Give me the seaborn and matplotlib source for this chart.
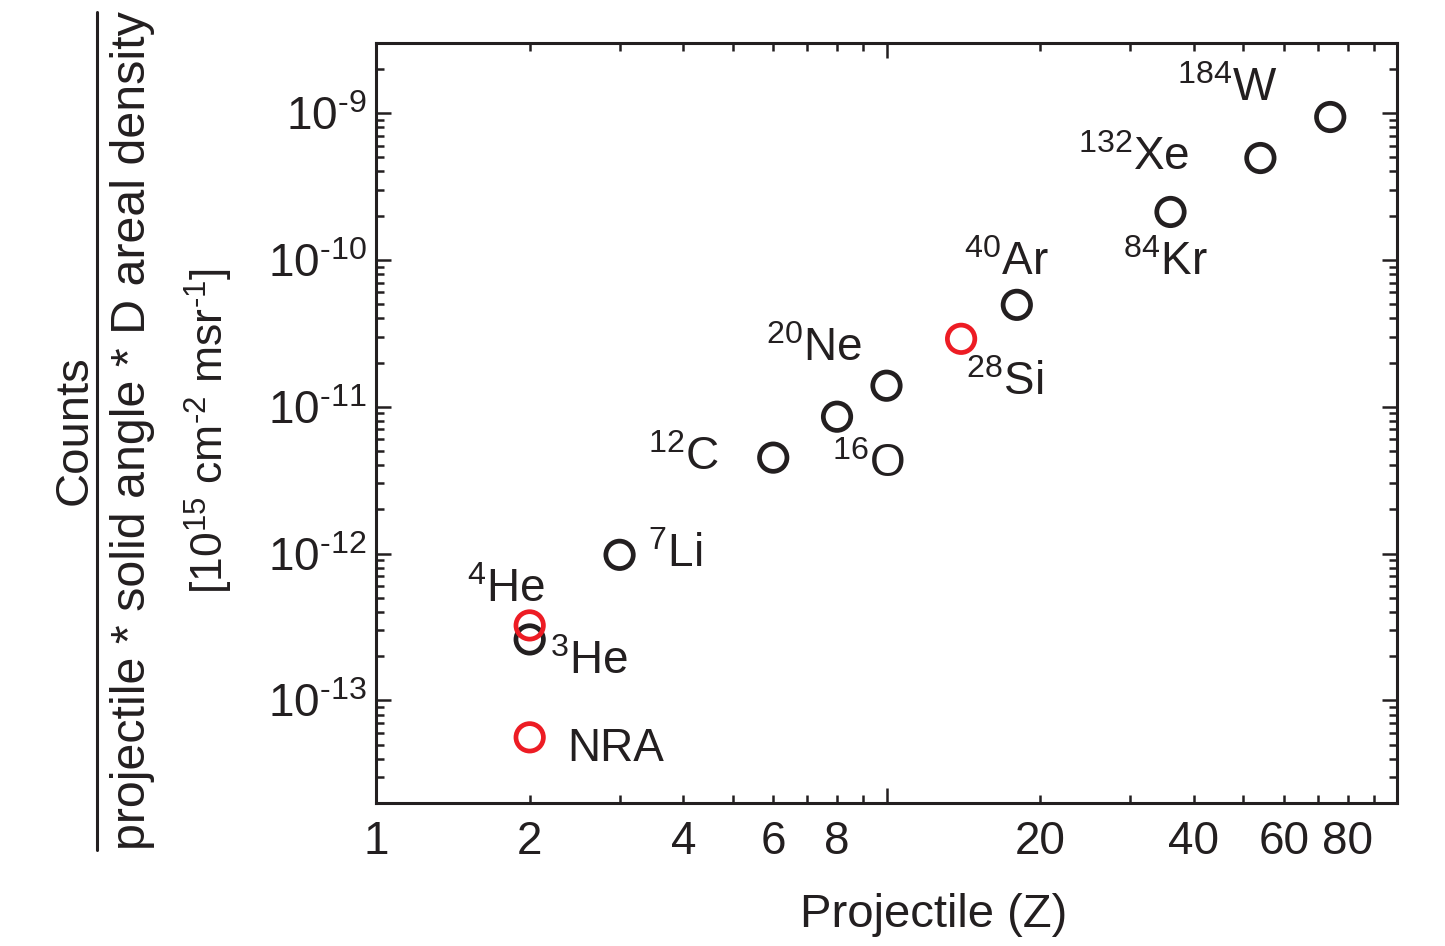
import matplotlib
matplotlib.use("Agg")
import matplotlib.pyplot as plt
from matplotlib.lines import Line2D
from matplotlib.ticker import FixedLocator, FixedFormatter, NullFormatter
import numpy as np
import pandas as pd
import seaborn as sns

# Projectile atomic number, normalised yield, isotope label, data group
projectile_z = [2, 2, 2, 3, 6, 8, 10, 14, 18, 36, 54, 74]
norm_counts = [5.6e-14, 2.6e-13, 3.24e-13, 9.8e-13, 4.5e-12, 8.55e-12,
               1.39e-11, 2.9e-11, 4.94e-11, 2.12e-10, 4.94e-10, 9.4e-10]
isotope = ["NRA", "3He", "4He", "7Li", "12C", "16O",
           "20Ne", "28Si", "40Ar", "84Kr", "132Xe", "184W"]
group = ["red", "black", "red", "black", "black", "black",
         "black", "red", "black", "black", "black", "black"]

x_tick_labels = ["1", "2", "4", "6", "8", "20", "40", "60", "80"]
x_tick_values = [1, 2, 4, 6, 8, 20, 40, 60, 80]

BLACK = "#231f20"
RED = "#ed1c24"
HYPHEN = "\u2010"

sns.set_theme(style="ticks")
plt.rcParams["font.family"] = ["Liberation Sans", "DejaVu Sans"]
plt.rcParams["mathtext.fontset"] = "custom"
plt.rcParams["mathtext.rm"] = "Liberation Sans"
plt.rcParams["mathtext.it"] = "Liberation Sans:italic"
plt.rcParams["mathtext.bf"] = "Liberation Sans:bold"
plt.rcParams["text.color"] = BLACK

df = pd.DataFrame({"Z": projectile_z, "value": norm_counts,
                   "label": isotope, "group": group})

fig = plt.figure(figsize=(14.45, 9.46), dpi=100)
ax = fig.add_axes([376 / 1445, 1 - 803 / 946, (1397 - 376) / 1445, (803 - 43) / 946])

sns.scatterplot(data=df, x="Z", y="value", hue="group",
                palette={"black": BLACK, "red": RED}, s=390,
                legend=False, ax=ax, zorder=3)
# hollow circles: move the fill colour to the edge
for coll in ax.collections:
    fc = coll.get_facecolors()
    coll.set_edgecolors(fc)
    coll.set_facecolor("none")
    coll.set_linewidth(3.4)

ax.set_xscale("log")
ax.set_yscale("log")
ax.set_xlim(1, 100)
ax.set_ylim(2e-14, 3e-9)

# x ticks: long ticks at decades, short ones in between
ax.xaxis.set_major_locator(FixedLocator([1, 10, 100]))
ax.xaxis.set_major_formatter(FixedFormatter(["1", "", ""]))
minor_x = [2, 3, 4, 5, 6, 7, 8, 9, 20, 30, 40, 50, 60, 70, 80, 90]
ax.xaxis.set_minor_locator(FixedLocator(minor_x))
ax.xaxis.set_minor_formatter(FixedFormatter(
    [x_tick_labels[x_tick_values.index(v)] if v in x_tick_values else "" for v in minor_x]))

y_major = [1e-13, 1e-12, 1e-11, 1e-10, 1e-9]
ax.yaxis.set_major_locator(FixedLocator(y_major))
ax.yaxis.set_major_formatter(FixedFormatter(
    [r"$\mathregular{10^{%s%d}}$" % (HYPHEN, -int(round(np.log10(v)))) for v in y_major]))
minor_y = [m * 10.0 ** e for e in range(-14, -8) for m in range(2, 10)]
ax.yaxis.set_minor_locator(FixedLocator(minor_y))
ax.yaxis.set_minor_formatter(NullFormatter())

for sp in ax.spines.values():
    sp.set_linewidth(2.2)
    sp.set_color(BLACK)

ax.tick_params(which="both", direction="in", top=True, right=True,
               colors=BLACK, width=1.8)
ax.tick_params(axis="x", which="both", labelsize=33, pad=12.5)
ax.tick_params(axis="y", which="both", labelsize=33, pad=7)
ax.tick_params(which="major", length=11)
ax.tick_params(which="minor", length=5.5)

ax.set_xlabel("")
ax.set_ylabel("")
fig.text(934 / 1445, 1 - 915 / 946, "Projectile (Z)", fontsize=34,
         ha="center", va="center", color=BLACK)

# isotope labels placed next to their markers (offsets in pixels)
label_style = {
    "NRA": ((38, -24), "left"),
    "3He": ((20, -35), "left"),
    "4He": ((-63, 23), "left"),
    "7Li": ((28, -12), "left"),
    "12C": ((-54, -12), "right"),
    "16O": ((-5, -60), "left"),
    "20Ne": ((-24, 25), "right"),
    "28Si": ((5, -56), "left"),
    "40Ar": ((-53, 30), "left"),
    "84Kr": ((-47, -63), "left"),
    "132Xe": ((-71, -12), "right"),
    "184W": ((-53, 16), "right"),
}
for z, v, lab in zip(projectile_z, norm_counts, isotope):
    off, ha = label_style[lab]
    mass = "".join(ch for ch in lab if ch.isdigit())
    elem = "".join(ch for ch in lab if not ch.isdigit())
    txt = r"$\mathregular{^{%s}%s}$" % (mass, elem) if mass else lab
    ax.annotate(txt, (z, v), xytext=off, textcoords="offset pixels",
                ha=ha, va="baseline", fontsize=33, color=BLACK)

# y-axis label written as a fraction
fig.text(87 / 1445, 1 - 430 / 946, "Counts", rotation=90, rotation_mode="anchor",
         ha="center", va="baseline", fontsize=34, color=BLACK)
fig.add_artist(Line2D([97 / 1445, 97 / 1445], [1 - 12 / 946, 1 - 850 / 946],
                      color=BLACK, linewidth=2.2))
fig.text(145 / 1445, 1 - 431 / 946, "projectile * solid angle * D areal density",
         rotation=90, rotation_mode="anchor", ha="center", va="baseline",
         fontsize=34.8, color=BLACK)
fig.text(224 / 1445, 1 - 431 / 946,
         r"[10$^{\mathregular{15}}$ cm$^{\mathregular{%s2}}$ msr$^{\mathregular{%s1}}$]"
         % (HYPHEN, HYPHEN),
         rotation=90, rotation_mode="anchor", ha="center", va="baseline",
         fontsize=32, color=BLACK)

fig.savefig("out.png", dpi=100)
